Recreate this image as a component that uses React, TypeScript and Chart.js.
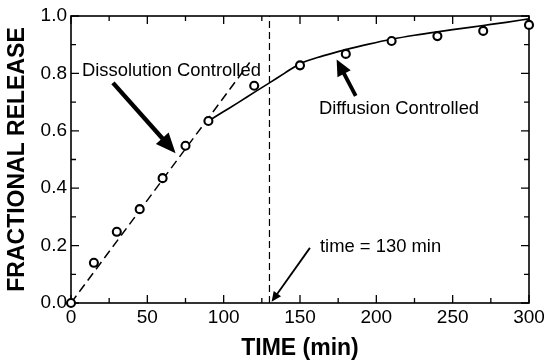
import React, { useEffect, useRef } from "react";
import { Chart, registerables } from "chart.js";

Chart.register(...registerables);

// ---- data ----
const sampleTimes = [0, 15, 30, 45, 60, 75, 90, 120, 150, 180, 210, 240, 270, 300];
const sampleRelease = [0.0, 0.14, 0.248, 0.327, 0.435, 0.548, 0.634, 0.757, 0.828, 0.868, 0.913, 0.93, 0.948, 0.969];

const dissolutionX = [0, 117];
const dissolutionY = [0, 0.838];

const diffusionX = [90, 100, 110, 120, 130, 140, 150, 165, 180, 195, 210, 225, 240, 255, 270, 285, 300];
const diffusionY = [0.634, 0.667, 0.7, 0.734, 0.767, 0.801, 0.834, 0.861, 0.883, 0.902, 0.919, 0.933, 0.945, 0.956, 0.967, 0.978, 0.99];

const transitionTime = 130;

const xTickValues = [0, 50, 100, 150, 200, 250, 300];
const yTickValues = [0, 0.2, 0.4, 0.6, 0.8, 1.0];

const labels = {
  dissolution: "Dissolution Controlled",
  diffusion: "Diffusion Controlled",
  time: "time = 130 min",
  xTitle: "TIME (min)",
  yTitle: "FRACTIONAL RELEASE",
};

// ---- annotation placement (data units) ----
const annotations = [
  { text: labels.dissolution, tx: 7.2, ty: 0.807, from: [27.5, 0.767], to: [68.5, 0.522], width: 4.4, headLen: 20, headHalf: 8.5 },
  { text: labels.diffusion, tx: 162.4, ty: 0.676, from: [186.5, 0.722], to: [174.0, 0.848], width: 3.8, headLen: 16, headHalf: 7.5 },
  { text: labels.time, tx: 163.1, ty: 0.195, from: [156.5, 0.192], to: [131.4, 0.004], width: 1.8, headLen: 10, headHalf: 4.5 },
];

const FONT = "'Liberation Sans', Arial, Helvetica, sans-serif";

const framePlugin = {
  id: "frameTicks",
  beforeDatasetsDraw(chart: any) {
    const { ctx, chartArea: a, scales } = chart;
    const xs = scales.x;
    const ys = scales.y;
    ctx.save();
    ctx.strokeStyle = "#000";
    ctx.lineWidth = 1.6;
    ctx.strokeRect(a.left, a.top, a.right - a.left, a.bottom - a.top);
    ctx.lineWidth = 1.3;
    ctx.beginPath();
    for (let v = 0; v <= 300; v += 25) {
      const px = xs.getPixelForValue(v);
      const len = v % 50 === 0 ? 8 : 5;
      ctx.moveTo(px, a.bottom);
      ctx.lineTo(px, a.bottom - len);
      ctx.moveTo(px, a.top);
      ctx.lineTo(px, a.top + len);
    }
    for (let i = 0; i <= 10; i++) {
      const v = i / 10;
      const py = ys.getPixelForValue(v);
      const len = i % 2 === 0 ? 8 : 5;
      ctx.moveTo(a.left, py);
      ctx.lineTo(a.left + len, py);
      ctx.moveTo(a.right, py);
      ctx.lineTo(a.right - len, py);
    }
    ctx.stroke();
    ctx.restore();
  },
  afterDatasetsDraw(chart: any) {
    const { ctx, scales } = chart;
    const xs = scales.x;
    const ys = scales.y;
    ctx.save();
    ctx.fillStyle = "#000";
    ctx.strokeStyle = "#000";
    ctx.font = `18.4px ${FONT}`;
    ctx.textBaseline = "middle";
    ctx.textAlign = "left";
    for (const an of annotations) {
      ctx.fillText(an.text, xs.getPixelForValue(an.tx), ys.getPixelForValue(an.ty));
      const x1 = xs.getPixelForValue(an.from[0]);
      const y1 = ys.getPixelForValue(an.from[1]);
      const x2 = xs.getPixelForValue(an.to[0]);
      const y2 = ys.getPixelForValue(an.to[1]);
      const ang = Math.atan2(y2 - y1, x2 - x1);
      const bx = x2 - an.headLen * Math.cos(ang);
      const by = y2 - an.headLen * Math.sin(ang);
      ctx.lineWidth = an.width;
      ctx.lineCap = "butt";
      ctx.beginPath();
      ctx.moveTo(x1, y1);
      ctx.lineTo(bx + Math.cos(ang) * 2, by + Math.sin(ang) * 2);
      ctx.stroke();
      const nx = -Math.sin(ang);
      const ny = Math.cos(ang);
      ctx.beginPath();
      ctx.moveTo(x2, y2);
      ctx.lineTo(bx + nx * an.headHalf, by + ny * an.headHalf);
      ctx.lineTo(bx - nx * an.headHalf, by - ny * an.headHalf);
      ctx.closePath();
      ctx.fill();
    }
    ctx.restore();
  },
};

export default function App() {
  const ref = useRef<HTMLCanvasElement | null>(null);
  useEffect(() => {
    if (!ref.current) return;
    const chart = new Chart(ref.current, {
      type: "scatter",
      data: {
        datasets: [
          {
            label: "Data",
            data: sampleTimes.map((t, i) => ({ x: t, y: sampleRelease[i] })),
            showLine: false,
            pointStyle: "circle",
            pointRadius: 4,
            pointBorderWidth: 2.1,
            pointBackgroundColor: "#fff",
            pointBorderColor: "#000",
            clip: false,
            order: 0,
          } as any,
          {
            label: "Dissolution",
            data: dissolutionX.map((t, i) => ({ x: t, y: dissolutionY[i] })),
            showLine: true,
            borderColor: "#000",
            borderWidth: 1.5,
            borderDash: [9, 5],
            pointRadius: 0,
            order: 1,
          } as any,
          {
            label: "Diffusion",
            data: diffusionX.map((t, i) => ({ x: t, y: diffusionY[i] })),
            showLine: true,
            borderColor: "#000",
            borderWidth: 1.7,
            cubicInterpolationMode: "monotone",
            pointRadius: 0,
            order: 2,
          } as any,
          {
            label: "Transition",
            data: [
              { x: transitionTime, y: 0 },
              { x: transitionTime, y: 1 },
            ],
            showLine: true,
            borderColor: "#000",
            borderWidth: 1.2,
            borderDash: [7, 4],
            pointRadius: 0,
            order: 3,
          } as any,
        ],
      },
      options: {
        responsive: false,
        animation: false,
        events: [],
        layout: { padding: { top: 16, right: 15, left: 0, bottom: 0 } },
        plugins: { legend: { display: false }, tooltip: { enabled: false } },
        scales: {
          x: {
            type: "linear",
            min: 0,
            max: 300,
            afterBuildTicks: (s: any) => {
              s.ticks = xTickValues.map((v) => ({ value: v }));
            },
            afterFit: (s: any) => {
              s.height = 59;
              s.paddingLeft = 0;
              s.paddingRight = 0;
            },
            grid: { display: false, drawTicks: false },
            border: { display: false },
            ticks: {
              color: "#000",
              padding: 3,
              maxRotation: 0,
              font: { family: FONT, size: 19 },
            },
            title: {
              display: true,
              text: labels.xTitle,
              color: "#000",
              font: { family: FONT, size: 23, weight: "bold" },
              padding: { top: 0, bottom: 0 },
            },
          },
          y: {
            type: "linear",
            min: 0,
            max: 1,
            afterBuildTicks: (s: any) => {
              s.ticks = yTickValues.map((v) => ({ value: v }));
            },
            afterFit: (s: any) => {
              s.width = 71;
              s.paddingTop = 0;
              s.paddingBottom = 0;
            },
            grid: { display: false, drawTicks: false },
            border: { display: false },
            ticks: {
              color: "#000",
              padding: 4,
              font: { family: FONT, size: 19 },
              callback: (v: any) => Number(v).toFixed(1),
            },
            title: {
              display: true,
              text: labels.yTitle,
              color: "#000",
              font: { family: FONT, size: 23, weight: "bold" },
              padding: { top: 4, bottom: 0 },
            },
          },
        },
      } as any,
      plugins: [framePlugin],
    });
    return () => chart.destroy();
  }, []);
  return (
    <div style={{ position: "fixed", left: 0, top: 0, width: 544, height: 362, background: "#fff" }}>
      <canvas ref={ref} width={544} height={362} style={{ width: 544, height: 362, display: "block" }} />
    </div>
  );
}
